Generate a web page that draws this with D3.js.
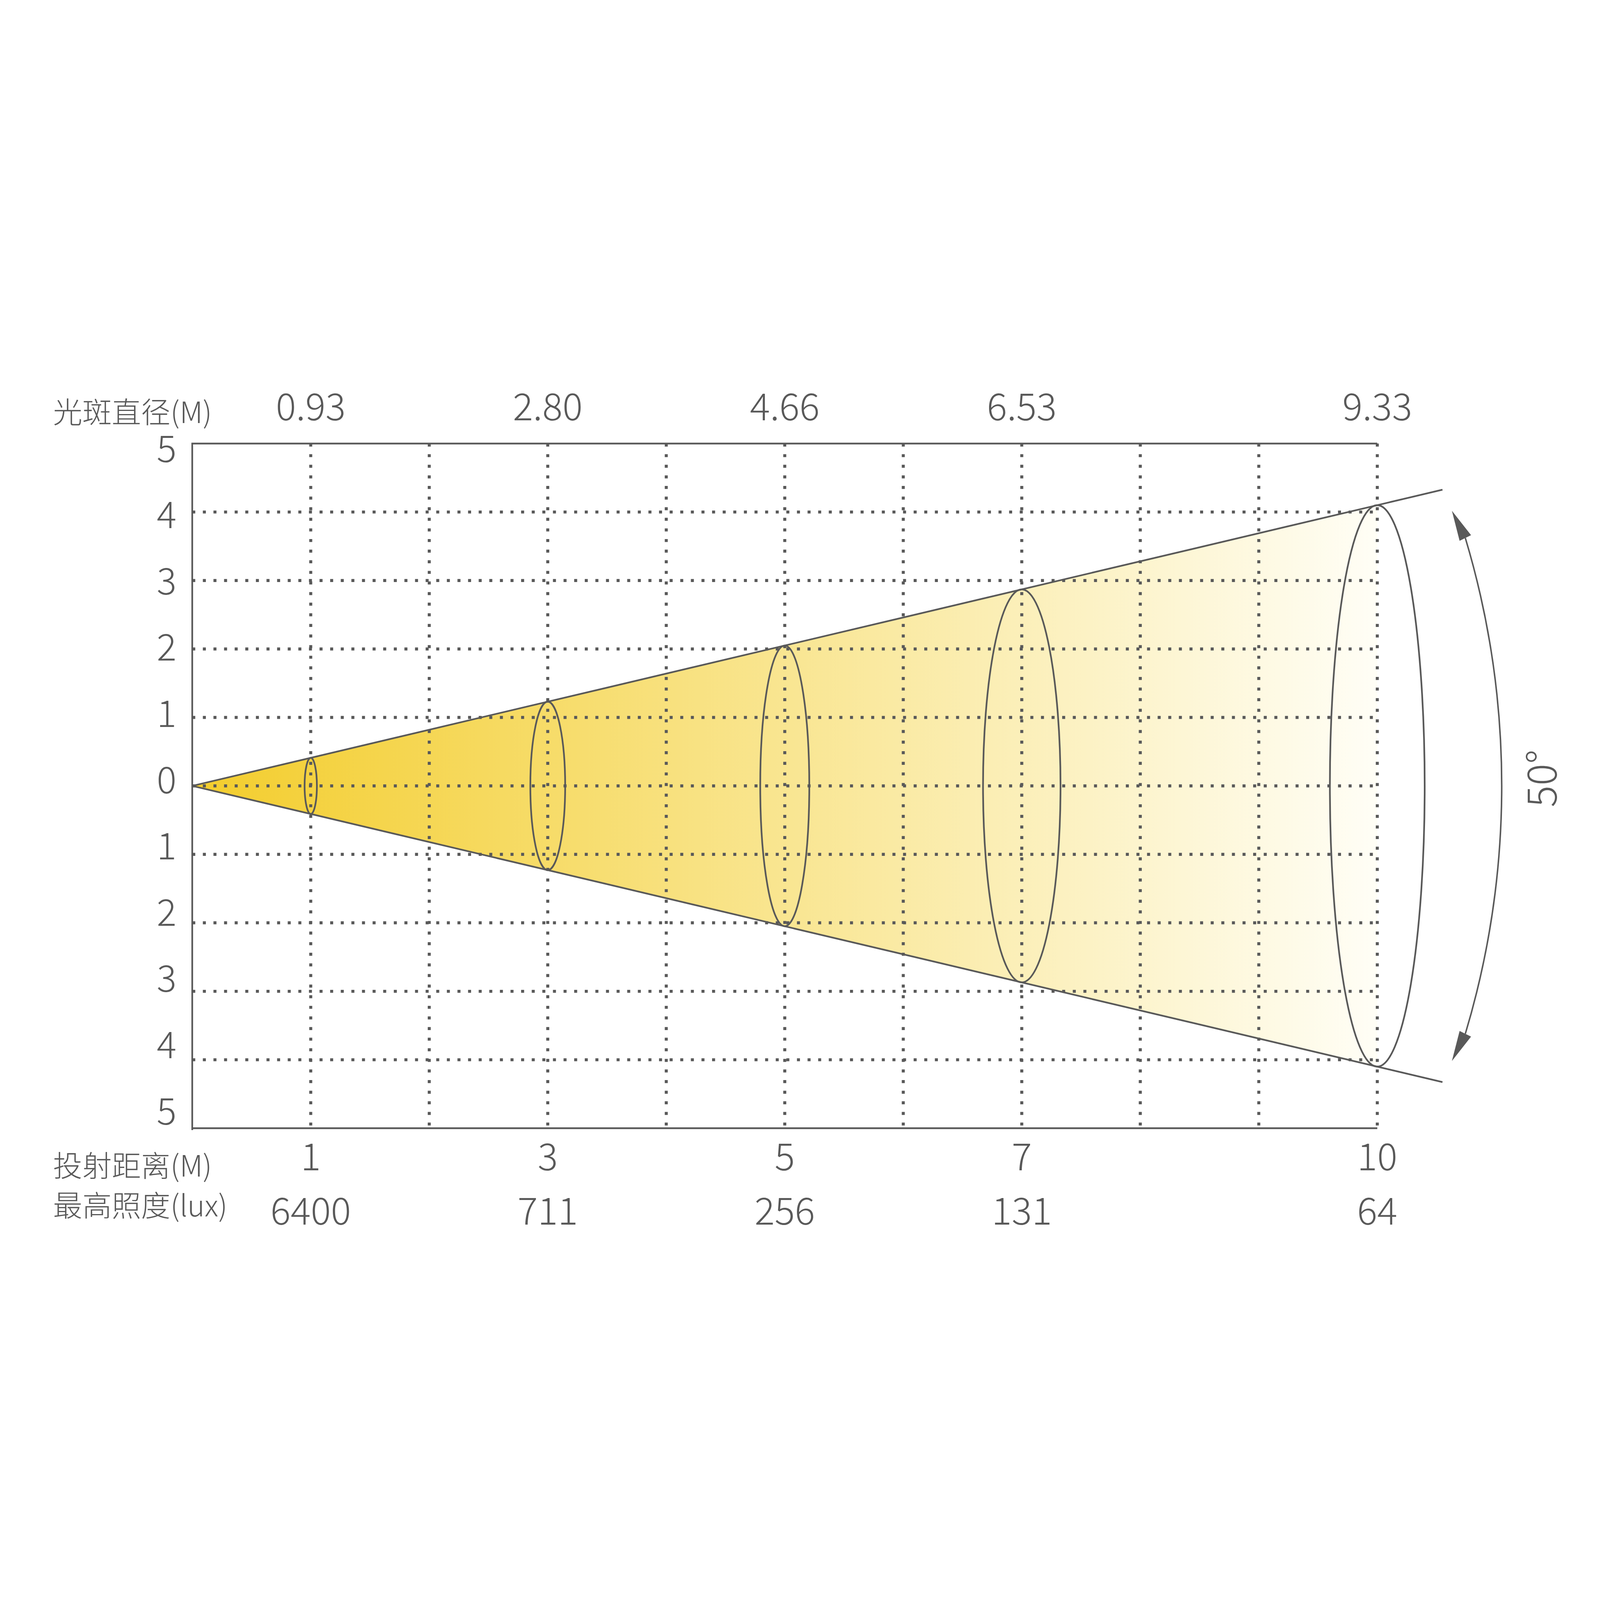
<!DOCTYPE html>
<html>
<head>
<meta charset="utf-8">
<script src="https://cdn.jsdelivr.net/npm/d3@7.9.0/dist/d3.min.js"></script>
<style>
  html, body { margin: 0; padding: 0; background: #fff; overflow: hidden; }
  svg { display: block; width: 100vw; height: 100vh; }
  text { font-family: "Noto Sans CJK SC", "Noto Sans", sans-serif; font-weight: 300; fill: #595959; }
</style>
</head>
<body>
<svg id="chart" viewBox="0 0 4253 4253" preserveAspectRatio="xMidYMid meet"></svg>
<script>
// data
const distances = [1, 3, 5, 7, 10];
const spotDiameters = ['0.93', '2.80', '4.66', '6.53', '9.33'];
const maxLux = [6400, 711, 256, 131, 64];
const yTicks = [5, 4, 3, 2, 1, 0, -1, -2, -3, -4, -5];
const xGrid = [1, 2, 3, 4, 5, 6, 7, 8, 9, 10];
const yGrid = [4, 3, 2, 1, 0, -1, -2, -3, -4];
const ellipseDepth = [0.052, 0.147, 0.207, 0.327, 0.40]; // half width of each spot ellipse (m)
const drawnSpread = 0.41;   // half height of the drawn cone per metre
const beamAngle = 50;

const ink = '#595959';
const svg = d3.select('#chart');

const x = d3.scaleLinear().domain([0, 10]).range([511, 3661]);
const y = d3.scaleLinear().domain([-5, 5]).range([2999, 1179]);
// tick labels sit a little tighter than the grid
const yLabel = d3.scaleLinear().domain([-5, 5]).range([2957, 1196]);

// beam fill
const defs = svg.append('defs');
const grad = defs.append('linearGradient')
  .attr('id', 'beam')
  .attr('gradientUnits', 'userSpaceOnUse')
  .attr('x1', x(0)).attr('x2', x(10))
  .attr('y1', 0).attr('y2', 0);
grad.append('stop').attr('offset', 0).attr('stop-color', '#f3cd2c');
grad.append('stop').attr('offset', 1).attr('stop-color', '#fffef6');

const endX = 10;
svg.append('path')
  .attr('d', d3.line()([
    [x(0), y(0)],
    [x(endX), y(drawnSpread * endX)],
    [x(endX), y(-drawnSpread * endX)]
  ]))
  .attr('fill', 'url(#beam)');

// dotted grid
const dots = '8 20.2';
svg.append('g')
  .selectAll('line')
  .data(yGrid)
  .join('line')
  .attr('x1', x(0)).attr('x2', x(10))
  .attr('y1', d => y(d)).attr('y2', d => y(d))
  .attr('stroke', ink).attr('stroke-width', 8)
  .attr('stroke-dasharray', dots);

svg.append('g')
  .selectAll('line')
  .data(xGrid)
  .join('line')
  .attr('x1', d => x(d)).attr('x2', d => x(d))
  .attr('y1', y(5)).attr('y2', y(-5) + 8)
  .attr('stroke', ink).attr('stroke-width', 8)
  .attr('stroke-dasharray', dots);

// frame: top, left, bottom
svg.append('path')
  .attr('d', d3.line()([[x(10), y(5)], [x(0), y(5)], [x(0), y(-5) + 5]]))
  .attr('fill', 'none').attr('stroke', ink).attr('stroke-width', 4.5);
svg.append('line')
  .attr('x1', x(0)).attr('x2', x(10))
  .attr('y1', y(-5)).attr('y2', y(-5))
  .attr('stroke', ink).attr('stroke-width', 4.5);

// cone edges
const coneEnd = 10.55;
[1, -1].forEach(s => {
  svg.append('line')
    .attr('x1', x(0)).attr('y1', y(0))
    .attr('x2', x(coneEnd)).attr('y2', y(s * drawnSpread * coneEnd))
    .attr('stroke', ink).attr('stroke-width', 4.5);
});

// spot ellipses
svg.append('g')
  .selectAll('ellipse')
  .data(distances)
  .join('ellipse')
  .attr('cx', d => x(d))
  .attr('cy', y(0))
  .attr('rx', (d, i) => x(ellipseDepth[i]) - x(0))
  .attr('ry', d => y(0) - y(drawnSpread * d))
  .attr('fill', 'none')
  .attr('stroke', ink).attr('stroke-width', 4.5);

// y tick labels
const yAxis = svg.append('g')
  .attr('transform', `translate(${x(0) - 42},0)`)
  .call(d3.axisLeft(yLabel).tickValues(yTicks).tickFormat(d => Math.abs(d)).tickSize(0).tickPadding(0));
yAxis.select('.domain').remove();
yAxis.attr('font-family', null).attr('font-size', null);
yAxis.selectAll('text')
  .attr('font-size', 98)
  .attr('fill', ink);

// top row: spot diameter
svg.append('g')
  .selectAll('text')
  .data(distances)
  .join('text')
  .attr('x', d => x(d))
  .attr('y', 1117)
  .attr('text-anchor', 'middle')
  .attr('font-size', 100)
  .text((d, i) => spotDiameters[i]);

// bottom rows: distance and lux
svg.append('g')
  .selectAll('text')
  .data(distances)
  .join('text')
  .attr('x', d => x(d))
  .attr('y', 3111)
  .attr('text-anchor', 'middle')
  .attr('font-size', 100)
  .text(d => d);

svg.append('g')
  .selectAll('text')
  .data(distances)
  .join('text')
  .attr('x', d => x(d))
  .attr('y', 3255)
  .attr('text-anchor', 'middle')
  .attr('font-size', 100)
  .text((d, i) => maxLux[i]);

// row titles
const titles = [['光斑直径(M)', 1124], ['投射距离(M)', 3127], ['最高照度(lux)', 3233]];
svg.append('g')
  .selectAll('text')
  .data(titles)
  .join('text')
  .attr('x', 141)
  .attr('y', d => d[1])
  .attr('font-size', 78)
  .text(d => d[0]);

// beam angle arc with arrows
const arcCx = x(3.77), arcCy = y(0);
const arcR = x(3.77 + 7.28) - x(3.77);
const endA = 16.7 * Math.PI / 180;
const tipA = 18.7 * Math.PI / 180;
const p = d3.path();
p.moveTo(arcCx + arcR * Math.cos(-endA), arcCy + arcR * Math.sin(-endA));
p.arc(arcCx, arcCy, arcR, -endA, endA);
svg.append('path')
  .attr('d', p.toString())
  .attr('fill', 'none').attr('stroke', ink).attr('stroke-width', 4);

[1, -1].forEach(s => {
  const bx = arcCx + arcR * Math.cos(s * endA);
  const by = arcCy + arcR * Math.sin(s * endA);
  const tx = arcCx + (arcR - 12) * Math.cos(s * tipA);
  const ty = arcCy + (arcR - 12) * Math.sin(s * tipA);
  const len = Math.hypot(tx - bx, ty - by);
  const nx = -(ty - by) / len * 17, ny = (tx - bx) / len * 17;
  svg.append('path')
    .attr('d', d3.line()([[tx, ty], [bx + nx, by + ny], [bx - nx, by - ny]]) + 'Z')
    .attr('fill', ink);
});

svg.append('text')
  .attr('transform', `translate(4138,${y(0) - 20}) rotate(-90)`)
  .attr('text-anchor', 'middle')
  .attr('font-size', 108)
  .text(beamAngle + '°');
</script>
</body>
</html>
